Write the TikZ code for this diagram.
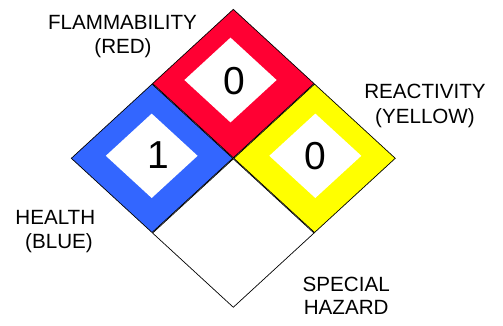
\documentclass[tikz,border=0pt]{standalone}
\usepackage{fontspec}
\setmainfont{Liberation Sans}
\definecolor{nfpared}{RGB}{255,0,51}
\definecolor{nfpablue}{RGB}{51,102,255}
\definecolor{nfpayellow}{RGB}{255,255,0}
\begin{document}
\begin{tikzpicture}[x=1pt,y=-1pt,
  outerdmd/.style={draw=black,line width=0.7pt,line join=miter},
  innerdmd/.style={fill=white,draw=none},
  numtext/.style={inner sep=0pt,anchor=base,font=\fontsize{39}{39}\selectfont},
  lbltext/.style={inner sep=0pt,anchor=base,font=\fontsize{20.6}{24}\selectfont}]
\useasboundingbox (0,0) rectangle (503,325);
% outer diamonds
\path[outerdmd,fill=nfpared]    (233.3,83.55)  ++(0,-74.2) -- ++(80.7,74.2) -- ++(-80.7,74.2) -- ++(-80.7,-74.2) -- cycle;
\path[outerdmd,fill=nfpablue]   (152.05,158.3) ++(0,-74.2) -- ++(80.7,74.2) -- ++(-80.7,74.2) -- ++(-80.7,-74.2) -- cycle;
\path[outerdmd,fill=nfpayellow] (314.55,158.3) ++(0,-74.2) -- ++(80.7,74.2) -- ++(-80.7,74.2) -- ++(-80.7,-74.2) -- cycle;
\path[outerdmd,fill=white]      (233.3,233.05) ++(0,-74.2) -- ++(80.7,74.2) -- ++(-80.7,74.2) -- ++(-80.7,-74.2) -- cycle;
% inner white diamonds
\path[innerdmd] (230.5,80)    ++(0,-42.4) -- ++(46.1,42.4) -- ++(-46.1,42.4) -- ++(-46.1,-42.4) -- cycle;
\path[innerdmd] (151.7,155.8) ++(0,-42.2) -- ++(45.9,42.2) -- ++(-45.9,42.2) -- ++(-45.9,-42.2) -- cycle;
\path[innerdmd] (315.3,155.8) ++(0,-42.2) -- ++(46.0,42.2) -- ++(-46.0,42.2) -- ++(-46.0,-42.2) -- cycle;
% numbers
\node[numtext] (flamnum)  at (234.2,94.5) {0};
\node[numtext] (healthnum) at (158.2,168.8) {1};
\node[numtext] (reactnum) at (315.8,169.4) {0};
% labels
\node[lbltext] (flamA)  at (122.5,29.3)  {FLAMMABILITY};
\node[lbltext] (flamB)  at (123,53.3)    {(RED)};
\node[lbltext] (reactA) at (425,98.3)    {REACTIVITY};
\node[lbltext] (reactB) at (425,123.3)   {(YELLOW)};
\node[lbltext] (healthA) at (55.3,224.3) {HEALTH};
\node[lbltext] (healthB) at (59,248.3)   {(BLUE)};
\node[lbltext] (specA)  at (346.2,291.7) {SPECIAL};
\node[lbltext] (specB)  at (346.2,314.3) {HAZARD};
\end{tikzpicture}
\end{document}
